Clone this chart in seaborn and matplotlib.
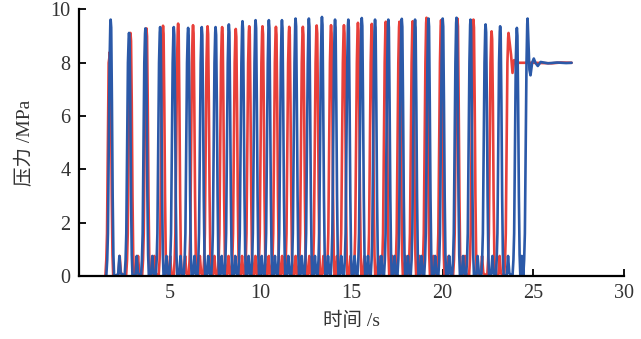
import numpy as np
import pandas as pd
import matplotlib
matplotlib.use("Agg")
import matplotlib.pyplot as plt
import seaborn as sns

# Peak times (s) and peak pressures (MPa)
blue_peak_t = [1.75, 2.76, 3.66, 4.47, 5.22, 6.01, 6.76, 7.52, 8.25, 9.00,
               9.72, 10.45, 11.17, 11.92, 12.65, 13.37, 14.09, 14.82, 15.56, 16.29,
               17.02, 17.76, 18.49, 19.23, 20.01, 20.77, 21.54, 22.37, 23.17, 24.09, 24.68]
blue_peak_p = [9.62, 9.12, 9.29, 9.34, 9.34, 9.31, 9.34, 9.34, 9.44, 9.56,
               9.60, 9.60, 9.60, 9.66, 9.66, 9.72, 9.62, 9.62, 9.68, 9.62,
               9.62, 9.65, 9.62, 9.66, 9.66, 9.69, 9.62, 9.44, 9.37, 9.31, 9.66]

red_peak_t = [1.70, 2.84, 3.72, 4.63, 5.46, 6.28, 7.08, 7.88, 8.63, 9.37,
              10.10, 10.84, 11.57, 12.32, 13.08, 13.87, 14.58, 15.35, 16.11, 16.88,
              17.63, 18.36, 19.12, 19.92, 20.82, 21.70, 22.70, 23.63]
red_peak_p = [8.40, 9.12, 9.29, 9.39, 9.47, 9.41, 9.37, 9.34, 9.27, 9.37,
              9.37, 9.35, 9.35, 9.35, 9.40, 9.41, 9.41, 9.50, 9.46, 9.54,
              9.54, 9.56, 9.69, 9.60, 9.66, 9.62, 9.18, 9.12]

# settling part after the last peak
red_tail_t = [23.77, 23.85, 23.94, 24.05, 24.15, 25.0, 26.0, 26.5, 27.1]
red_tail_p = [8.30, 7.62, 8.10, 8.02, 8.00, 8.00, 7.98, 8.01, 8.00]
blue_tail_t = [24.72, 24.78, 24.84, 24.93, 25.02, 25.11, 25.24, 25.4, 25.8, 26.3, 26.8, 27.1]
blue_tail_p = [8.90, 7.74, 7.53, 8.00, 8.16, 8.00, 7.88, 8.03, 7.98, 8.01, 7.99, 8.00]

# shape of one cycle around its peak (read from the close-up of a cycle)
rise_dt = [-0.24, -0.19, -0.15, -0.11, -0.06, -0.02]
rise_p = [0.0, 0.6, 1.6, 4.5, 8.0]
fall_dt = [0.03, 0.07, 0.11, 0.15, 0.19]
fall_p = [6.5, 3.0, 0.8, 0.0]
bump_dt = [-0.07, 0.0, 0.07]
bump_p = [0.05, 0.75, 0.1]


def build(peak_t, peak_p, tail_t, tail_p):
    t, p = [], []
    n = len(peak_t)
    for i in range(n):
        tp, pk = peak_t[i], peak_p[i]
        t += [tp + d for d in rise_dt] + [tp]
        p += rise_p + [pk - 0.2, pk]
        if i == n - 1:
            t += tail_t
            p += tail_p
        else:
            t += [tp + d for d in fall_dt]
            p += [pk - 0.3] + fall_p
            mid = (tp + fall_dt[-1] + peak_t[i + 1] + rise_dt[0]) / 2
            t += [mid + d for d in bump_dt]
            p += bump_p
    return pd.DataFrame({"t": t, "p": p})


red = build(red_peak_t, red_peak_p, red_tail_t, red_tail_p)
blue = build(blue_peak_t, blue_peak_p, blue_tail_t, blue_tail_p)

sns.set_style("ticks")
plt.rcParams['font.family'] = ['Liberation Serif', 'Noto Sans CJK SC']

fig = plt.figure(figsize=(6.41, 3.39), dpi=100)
ax = fig.add_axes([0.123, 0.186, 0.851, 0.786])

sns.lineplot(data=red, x="t", y="p", sort=False, estimator=None,
             color="#E8403A", lw=1.9, ax=ax)
sns.lineplot(data=blue, x="t", y="p", sort=False, estimator=None,
             color="#2B59A8", lw=1.9, ax=ax)

ax.set_xlim(0, 30)
ax.set_ylim(0, 10)
ax.set_xticks([5, 10, 15, 20, 25, 30])
ax.set_yticks([0, 2, 4, 6, 8, 10])
ax.tick_params(direction="in", length=5, width=1.3, color="black",
               labelsize=14.5, labelcolor="#333333", pad=6)
for s in ["left", "bottom"]:
    ax.spines[s].set_linewidth(1.6)
    ax.spines[s].set_color("black")
sns.despine(ax=ax)

ax.set_xlabel("时间 /s", fontsize=14, color="#333333", labelpad=6)
ax.set_ylabel("压力 /MPa", fontsize=14, color="#333333", labelpad=12)

fig.savefig("out.png", dpi=100)
